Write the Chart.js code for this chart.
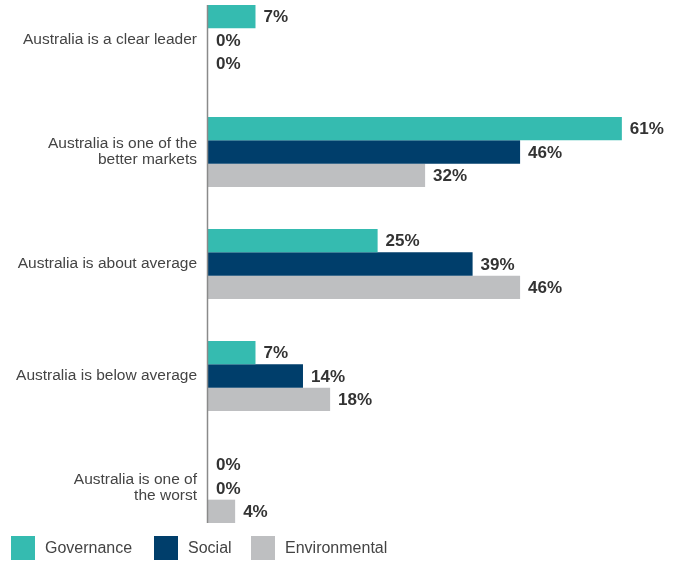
<!DOCTYPE html>
<html>
<head>
<meta charset="utf-8">
<script src="https://cdn.jsdelivr.net/npm/chart.js@4/dist/chart.umd.min.js"></script>
<style>
html,body{margin:0;padding:0;background:#fff;}
#wrap{width:679px;height:562px;position:relative;}
</style>
</head>
<body>
<div id="wrap"><canvas id="c" width="679" height="562"></canvas></div>
<script>
const categories = [
  "Australia is a clear leader",
  ["Australia is one of the", "better markets"],
  "Australia is about average",
  "Australia is below average",
  ["Australia is one of", "the worst"]
];
const seriesNames = ["Governance", "Social", "Environmental"];
const governance = [7, 61, 25, 7, 0];
const social = [0, 46, 39, 14, 0];
const environmental = [0, 32, 46, 18, 4];
const seriesColors = ["#35BBB0", "#003E6B", "#BEBFC1"];

const FONT = "'Liberation Sans', Arial, Helvetica, sans-serif";

const labelsPlugin = {
  id: 'valueLabels',
  afterDatasetsDraw(chart) {
    const ctx = chart.ctx;
    const xs = chart.scales.x;
    let top = Infinity, bottom = -Infinity;
    ctx.save();
    ctx.font = "bold 17px " + FONT;
    ctx.fillStyle = "#333333";
    ctx.textAlign = "left";
    ctx.textBaseline = "middle";
    chart.data.datasets.forEach((ds, di) => {
      const meta = chart.getDatasetMeta(di);
      meta.data.forEach((bar, i) => {
        const p = bar.getProps(['x', 'y', 'height'], true);
        top = Math.min(top, p.y - p.height / 2);
        bottom = Math.max(bottom, p.y + p.height / 2);
        ctx.fillText(ds.data[i] + "%", p.x + 8, p.y + 1);
      });
    });
    const x0 = Math.round(xs.getPixelForValue(0)) - 0.5;
    ctx.strokeStyle = "#8a8a8a";
    ctx.lineWidth = 1.5;
    ctx.beginPath();
    ctx.moveTo(x0, top);
    ctx.lineTo(x0, bottom);
    ctx.stroke();
    ctx.restore();
  }
};

const legendPlugin = {
  id: 'customLegend',
  afterDraw(chart) {
    const ctx = chart.ctx;
    const xs = [11, 154, 251];
    const yc = 548;
    ctx.save();
    ctx.font = "16px " + FONT;
    ctx.textBaseline = "middle";
    ctx.textAlign = "left";
    chart.data.datasets.forEach((ds, i) => {
      ctx.fillStyle = ds.backgroundColor;
      ctx.fillRect(xs[i], yc - 12, 24, 24);
      ctx.fillStyle = "#444444";
      ctx.fillText(ds.label, xs[i] + 34, yc + 1);
    });
    ctx.restore();
  }
};

new Chart(document.getElementById('c'), {
  type: 'bar',
  data: {
    labels: categories,
    datasets: [
      { label: seriesNames[0], data: governance, backgroundColor: seriesColors[0], clip: false },
      { label: seriesNames[1], data: social, backgroundColor: seriesColors[1], clip: false },
      { label: seriesNames[2], data: environmental, backgroundColor: seriesColors[2], clip: false }
    ]
  },
  options: {
    indexAxis: 'y',
    responsive: false,
    animation: false,
    layout: { padding: { top: 40, bottom: 74, left: 0, right: 30 } },
    datasets: { bar: { categoryPercentage: 0.625, barPercentage: 1.0, borderWidth: 0 } },
    plugins: { legend: { display: false }, tooltip: { enabled: false } },
    scales: {
      x: { display: false, min: 0, max: 65 },
      y: {
        offset: false,
        grid: { display: false, drawTicks: false },
        border: { display: false },
        ticks: {
          color: "#444444",
          padding: 11,
          font: { family: FONT, size: 15.5, lineHeight: 1.05 }
        },
        afterFit(scale) { scale.width = 208; }
      }
    }
  },
  plugins: [labelsPlugin, legendPlugin]
});
</script>
</body>
</html>
